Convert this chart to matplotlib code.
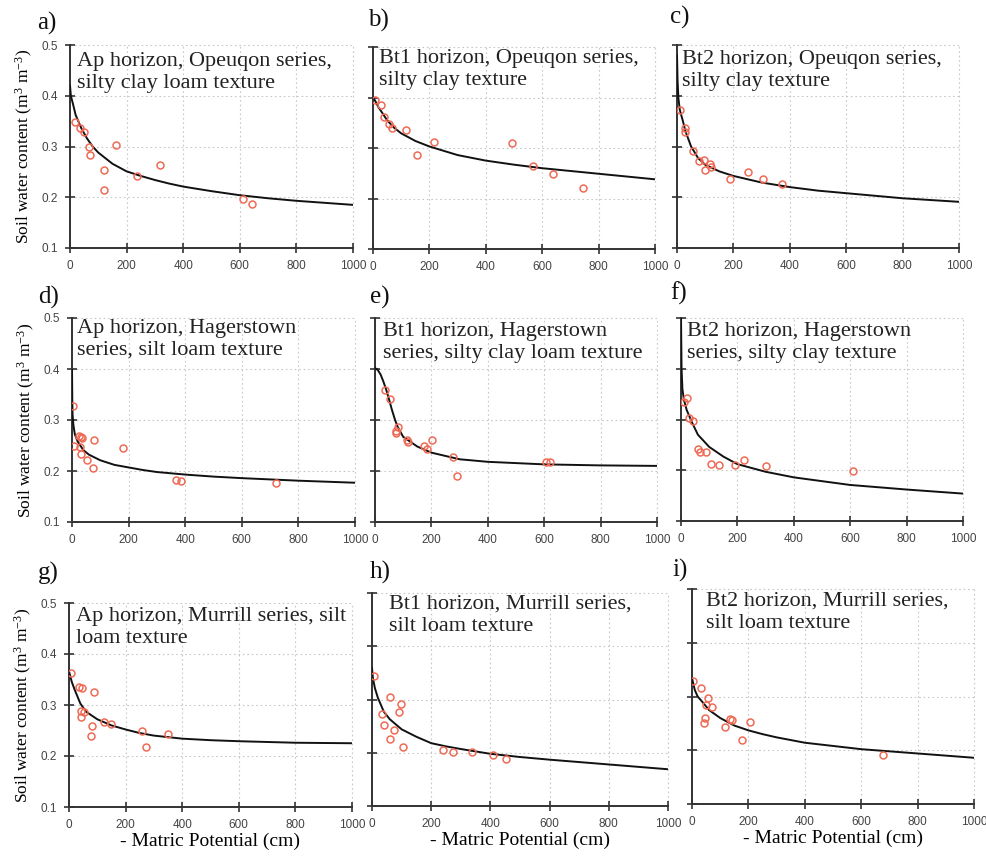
import matplotlib.pyplot as plt

plt.rcParams['mathtext.fontset'] = 'custom'
plt.rcParams['mathtext.rm'] = 'Liberation Serif'
plt.rcParams['mathtext.it'] = 'Liberation Serif:italic'

# Water retention: measured points and fitted curves for nine soil horizons
# x = - matric potential (cm), y = soil water content (m3 m-3)

a_x = [18, 35, 50, 67, 71, 121, 121, 164, 238, 319, 611, 644]
a_y = [0.349, 0.337, 0.328, 0.300, 0.284, 0.254, 0.215, 0.303, 0.241, 0.263, 0.196, 0.187]
a_fit_x = [0, 3, 10, 20, 40, 60, 80, 100, 150, 200, 250, 300, 350, 400, 500, 600, 700, 800, 900, 1000]
a_fit_y = [0.420, 0.400, 0.385, 0.362, 0.336, 0.316, 0.300, 0.288, 0.266, 0.251, 0.242, 0.234, 0.227,
           0.221, 0.212, 0.204, 0.198, 0.193, 0.189, 0.185]

b_x = [8, 30, 39, 57, 69, 118, 156, 215, 493, 568, 637, 743]
b_y = [0.395, 0.385, 0.362, 0.347, 0.340, 0.336, 0.287, 0.311, 0.309, 0.265, 0.248, 0.221]
b_fit_x = [0, 10, 20, 30, 50, 75, 100, 150, 200, 300, 400, 500, 600, 800, 1000]
b_fit_y = [0.401, 0.391, 0.380, 0.372, 0.355, 0.340, 0.329, 0.314, 0.303, 0.286, 0.275, 0.267,
           0.260, 0.249, 0.238]

c_x = [9, 30, 30, 57, 77, 95, 100, 116, 119, 189, 252, 305, 371]
c_y = [0.372, 0.336, 0.328, 0.292, 0.271, 0.274, 0.254, 0.265, 0.259, 0.236, 0.250, 0.236, 0.227]
c_fit_x = [0, 2, 5, 10, 20, 30, 50, 75, 100, 150, 200, 300, 400, 500, 600, 800, 1000]
c_fit_y = [0.480, 0.430, 0.395, 0.372, 0.352, 0.330, 0.300, 0.277, 0.264, 0.251, 0.242, 0.229,
           0.220, 0.213, 0.208, 0.198, 0.191]

d_x = [2, 7, 24, 32, 35, 28, 32, 54, 73, 77, 180, 369, 385, 722]
d_y = [0.328, 0.250, 0.269, 0.266, 0.264, 0.248, 0.234, 0.221, 0.206, 0.261, 0.246, 0.182, 0.180, 0.177]
d_fit_x = [0, 1, 2, 5, 10, 20, 40, 60, 100, 150, 200, 250, 300, 400, 500, 600, 800, 1000]
d_fit_y = [0.398, 0.340, 0.310, 0.290, 0.272, 0.258, 0.241, 0.232, 0.221, 0.212, 0.207, 0.202,
           0.198, 0.193, 0.189, 0.186, 0.181, 0.177]

e_x = [35, 53, 83, 74, 76, 112, 117, 175, 185, 201, 277, 290, 606, 622]
e_y = [0.359, 0.341, 0.287, 0.275, 0.278, 0.261, 0.257, 0.250, 0.244, 0.261, 0.227, 0.190, 0.218, 0.218]
e_fit_x = [0, 10, 20, 30, 40, 50, 60, 70, 80, 100, 150, 200, 300, 400, 600, 800, 1000]
e_fit_y = [0.402, 0.398, 0.389, 0.375, 0.359, 0.340, 0.320, 0.302, 0.287, 0.267, 0.248, 0.236,
           0.223, 0.218, 0.213, 0.211, 0.210]

f_x = [12, 21, 27, 43, 59, 66, 89, 106, 136, 190, 222, 300, 609]
f_y = [0.335, 0.342, 0.302, 0.297, 0.241, 0.235, 0.235, 0.213, 0.211, 0.210, 0.221, 0.209, 0.198]
f_fit_x = [0, 2, 5, 10, 20, 40, 60, 100, 150, 200, 300, 400, 600, 800, 1000]
f_fit_y = [0.500, 0.400, 0.360, 0.340, 0.319, 0.293, 0.270, 0.246, 0.227, 0.212, 0.197, 0.186,
           0.171, 0.162, 0.154]

g_x = [6, 36, 47, 89, 41, 44, 53, 80, 77, 124, 150, 257, 271, 351]
g_y = [0.362, 0.335, 0.333, 0.325, 0.289, 0.277, 0.286, 0.259, 0.240, 0.266, 0.262, 0.250, 0.218, 0.244]
g_fit_x = [0, 10, 20, 40, 60, 100, 150, 200, 250, 300, 400, 500, 600, 800, 1000]
g_fit_y = [0.366, 0.345, 0.330, 0.303, 0.287, 0.272, 0.260, 0.252, 0.245, 0.240, 0.234, 0.231,
           0.229, 0.226, 0.225]

h_x = [7, 60, 97, 90, 34, 40, 74, 60, 105, 241, 274, 337, 409, 454]
h_y = [0.345, 0.304, 0.292, 0.277, 0.273, 0.252, 0.243, 0.225, 0.210, 0.205, 0.201, 0.202, 0.195, 0.188]
h_fit_x = [0, 3, 10, 20, 40, 60, 100, 150, 200, 250, 300, 400, 500, 600, 800, 1000]
h_fit_y = [0.359, 0.340, 0.321, 0.303, 0.277, 0.263, 0.244, 0.230, 0.218, 0.212, 0.207, 0.198,
           0.192, 0.187, 0.178, 0.169]

i_x = [2, 33, 57, 50, 71, 45, 41, 118, 136, 142, 204, 177, 676]
i_y = [0.328, 0.316, 0.298, 0.284, 0.281, 0.260, 0.250, 0.244, 0.258, 0.256, 0.253, 0.219, 0.191]
i_fit_x = [0, 10, 20, 40, 60, 100, 150, 200, 250, 300, 400, 500, 600, 800, 1000]
i_fit_y = [0.334, 0.312, 0.300, 0.288, 0.275, 0.260, 0.246, 0.237, 0.230, 0.224, 0.214, 0.208,
           0.202, 0.194, 0.186]

letters = ['a)', 'b)', 'c)', 'd)', 'e)', 'f)', 'g)', 'h)', 'i)']
titles = [
    'Ap horizon, Opeuqon series,\nsilty clay loam texture',
    'Bt1 horizon, Opeuqon series,\nsilty clay texture',
    'Bt2 horizon, Opeuqon series,\nsilty clay texture',
    'Ap horizon, Hagerstown\nseries, silt loam texture',
    'Bt1 horizon, Hagerstown\nseries, silty clay loam texture',
    'Bt2 horizon, Hagerstown\nseries, silty clay texture',
    'Ap horizon, Murrill series, silt\nloam texture',
    'Bt1 horizon, Murrill series,\nsilt loam texture',
    'Bt2 horizon, Murrill series,\nsilt loam texture',
]
points = [(a_x, a_y), (b_x, b_y), (c_x, c_y), (d_x, d_y), (e_x, e_y),
          (f_x, f_y), (g_x, g_y), (h_x, h_y), (i_x, i_y)]
fits = [(a_fit_x, a_fit_y), (b_fit_x, b_fit_y), (c_fit_x, c_fit_y),
        (d_fit_x, d_fit_y), (e_fit_x, e_fit_y), (f_fit_x, f_fit_y),
        (g_fit_x, g_fit_y), (h_fit_x, h_fit_y), (i_fit_x, i_fit_y)]

# axes boxes in pixels: left, top, width, height
W, H = 987, 857
boxes = [(70, 45, 283, 203), (373, 47, 282, 202), (677, 45, 282, 203),
         (72, 318, 283, 204), (375, 318, 282, 204), (681, 318, 282, 203),
         (69, 603, 283, 204), (372, 593, 296, 213), (692, 589, 282, 215)]
text_off = [(7, 7), (6, 2), (5, 5), (5, 1), (8, 4), (6, 4), (7, 4), (17, 2), (14, 3)]
letter_pos = [(37, 12), (368, 9), (670, 6), (38, 286), (370, 286), (670, 282),
              (38, 562), (370, 561), (672, 559)]

serif = 'Liberation Serif'
fig = plt.figure(figsize=(W / 100, H / 100), dpi=100)

for k in range(9):
    l, t, w, h = boxes[k]
    ax = fig.add_axes([l / W, 1 - (t + h) / H, w / W, h / H])
    fx, fy = fits[k]
    px, py = points[k]
    ax.plot(fx, fy, color='#111111', lw=1.4, zorder=3)
    ax.plot(px, py, 'o', mfc='none', mec='#ee6a55', ms=5, mew=1.1, zorder=4)

    ax.set_xlim(0, 1000)
    ax.set_ylim(0.1, 0.5)
    ax.set_xticks([0, 200, 400, 600, 800, 1000])
    ax.set_yticks([0.1, 0.2, 0.3, 0.4, 0.5])
    ax.grid(True, color='#c8c8c8', lw=0.8, linestyle=(0, (1.5, 2.5)))
    for gl in ax.get_xgridlines() + ax.get_ygridlines():
        gl.set_clip_on(False)
    ax.set_axisbelow(True)
    for s in ['top', 'right']:
        ax.spines[s].set_visible(False)
    for s in ['left', 'bottom']:
        ax.spines[s].set_color('#333333')
        ax.spines[s].set_linewidth(1.4)
    ax.tick_params(direction='inout', length=7, width=1.2, color='#333333',
                   labelsize=8.5, labelcolor='#444444', pad=5)
    for lab in ax.get_xticklabels() + ax.get_yticklabels():
        lab.set_family('Liberation Sans')

    if k % 3 == 0:
        ax.set_yticklabels(['0.1', '0.2', '0.3', '0.4', '0.5'])
        ax.set_ylabel('Soil water content (m$^{3}$ m$^{-3}$)', family=serif,
                      fontsize=12.5, labelpad=5)
    else:
        ax.set_yticklabels([])
    if k >= 6:
        ax.set_xlabel('- Matric Potential (cm)', family=serif, fontsize=14, labelpad=1)

    dx, dy = text_off[k]
    ax.text(dx / w, 1 - dy / h, titles[k], transform=ax.transAxes, ha='left', va='top',
            family=serif, fontsize=16, color='#222222', linespacing=1.2, clip_on=False)

    lx, ly = letter_pos[k]
    fig.text(lx / W, 1 - ly / H, letters[k], ha='left', va='top', family=serif,
             fontsize=18, color='#111111')

fig.savefig('out.png', dpi=100)
